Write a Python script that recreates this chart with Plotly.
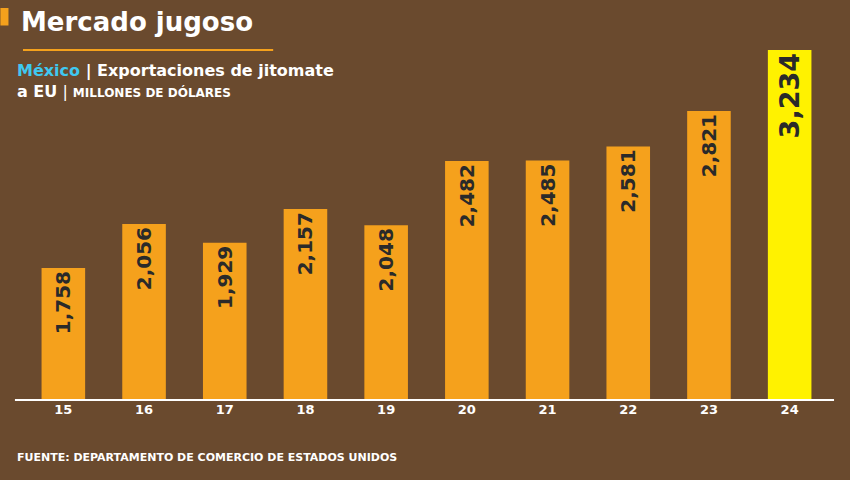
import plotly.graph_objects as go

years = ["15", "16", "17", "18", "19", "20", "21", "22", "23", "24"]
values = [1758, 2056, 1929, 2157, 2048, 2482, 2485, 2581, 2821, 3234]
colors = ["#F5A11C"] * 9 + ["#FFF200"]
labels = [f"<b>{v:,}</b>" for v in values]

fig = go.Figure()
fig.add_trace(go.Bar(
    x=years, y=values, marker=dict(color=colors, line_width=0),
    text=labels, textposition="inside", insidetextanchor="end", textangle=-90,
    textfont=dict(family="DejaVu Sans", size=[20] * 9 + [27], color="#2a2a2a"),
    cliponaxis=False,
))
fig.update_layout(
    width=850, height=480,
    margin=dict(l=23, r=20, t=50, b=80),
    paper_bgcolor="#6a4a2e", plot_bgcolor="rgba(0,0,0,0)",
    bargap=0.46, showlegend=False,
    font=dict(family="DejaVu Sans", color="white"),
    xaxis=dict(showgrid=False, tickfont=dict(size=13, color="white", family="DejaVu Sans"),
               showline=False, ticks="", tickprefix="<b>", ticksuffix="</b>"),
    yaxis=dict(range=[864, 3234], visible=False),
    shapes=[
        dict(type="line", xref="paper", yref="paper", x0=-0.01, x1=1.005, y0=0, y1=0,
             line=dict(color="white", width=2)),
        dict(type="rect", xref="paper", yref="paper", x0=-0.028, x1=-0.018, y0=1.07, y1=1.12,
             fillcolor="#F5A11C", line_width=0),
        dict(type="line", xref="paper", yref="paper", x0=0.0, x1=0.31, y0=1.0, y1=1.0,
             line=dict(color="#F5A11C", width=2)),
    ],
    annotations=[
        dict(text="<b>Mercado jugoso</b>", x=-0.005, y=1.13, xref="paper", yref="paper",
             xanchor="left", yanchor="top", showarrow=False, font=dict(size=26)),
        dict(text="<b><span style='color:#3FC8F0'>México</span> | Exportaciones de jitomate</b><br>"
                   "<b>a EU</b> | <b><span style='font-size:12px'>MILLONES DE DÓLARES</span></b>",
             x=-0.01, y=0.975, xref="paper", yref="paper", xanchor="left", yanchor="top",
             align="left", showarrow=False, font=dict(size=16)),
        dict(text="<b>FUENTE: DEPARTAMENTO DE COMERCIO DE ESTADOS UNIDOS</b>", x=-0.01, y=-0.14,
             xref="paper", yref="paper", xanchor="left", yanchor="top",
             showarrow=False, font=dict(size=11)),
    ],
)
fig.write_html("out.html", config={"displayModeBar": False},
               post_script="document.body.style.margin='0';")
